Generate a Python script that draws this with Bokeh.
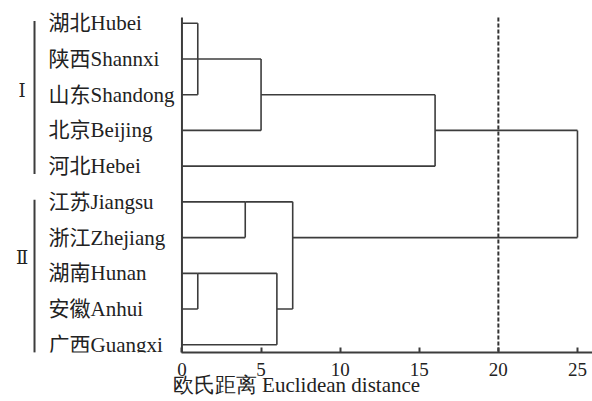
from bokeh.plotting import figure
from bokeh.models import Range1d, FixedTicker, ColumnDataSource
from bokeh.core.properties import value
from bokeh.embed import file_html
from bokeh.resources import INLINE

# ---- data ----
leaves = ["湖北Hubei", "陕西Shannxi", "山东Shandong", "北京Beijing", "河北Hebei",
          "江苏Jiangsu", "浙江Zhejiang", "湖南Hunan", "安徽Anhui", "广西Guangxi"]
# each merge: distance, rows of the joined branches, distance where each branch starts
merge_dist = [1, 5, 16, 4, 1, 6, 7, 25]
merge_child_rows = [[0, 1, 2], [1, 3], [2, 4], [5, 6], [7, 8], [7, 9], [5, 8], [3, 6]]
merge_child_from = [[0, 0, 0], [1, 0], [5, 0], [0, 0], [0, 0], [1, 0], [4, 6], [16, 7]]
cut_distance = 20
x_ticks = [0, 5, 10, 15, 20, 25]
group_names = ["Ⅰ", "Ⅱ"]
group_first_row = [0, 5]
group_last_row = [4, 9]
group_label_row = [1.87, 6.56]
x_label = "欧氏距离 Euclidean distance"

# ---- styling ----
FONT = "Liberation Serif, Noto Sans CJK SC"
LINE = "#3c3c3c"
TEXT = "#222222"

n = len(leaves)
y_top = -0.636
y_bot = (n - 1) + 0.216

p = figure(width=592, height=401, output_backend="svg", toolbar_location=None,
           x_range=Range1d(-11.47, 25.95), y_range=Range1d(y_bot, y_top),
           min_border_left=0, min_border_right=0, min_border_top=0, min_border_bottom=49)
p.outline_line_color = None
p.grid.visible = False
p.yaxis.visible = False
p.background_fill_color = "white"
p.border_fill_color = "white"

# dendrogram segments
hx0, hx1, hy = [], [], []
vx, vy0, vy1 = [], [], []
for d, rows, froms in zip(merge_dist, merge_child_rows, merge_child_from):
    for r, f in zip(rows, froms):
        hx0.append(f); hx1.append(d); hy.append(r)
    vx.append(d); vy0.append(min(rows)); vy1.append(max(rows))

p.segment(x0=hx0, y0=hy, x1=hx1, y1=hy, line_color=LINE, line_width=1.6)
p.segment(x0=vx, y0=vy0, x1=vx, y1=vy1, line_color=LINE, line_width=1.6)

# left baseline (distance 0) and cut line
top_line = -0.16
p.segment(x0=[0], y0=[top_line], x1=[0], y1=[y_bot], line_color=LINE, line_width=2)
p.segment(x0=[cut_distance], y0=[top_line], x1=[cut_distance], y1=[y_bot],
          line_color="#333333", line_width=2, line_dash="4 2")

# leaf labels
src = ColumnDataSource(dict(x=[-8.43] * n, y=list(range(n)), t=leaves))
p.text(x="x", y="y", text="t", source=src, text_font=value(FONT), text_font_size="21px",
       text_align="left", text_baseline="middle", text_color=TEXT)

# group brackets and roman numerals
bx = -9.32
p.segment(x0=[bx] * 2, y0=[f - 0.06 for f in group_first_row],
          x1=[bx] * 2, y1=[l + 0.22 for l in group_last_row],
          line_color=LINE, line_width=2)
p.text(x=[-10.1] * 2, y=group_label_row, text=group_names, text_font=value("DejaVu Serif"),
       text_font_size="18px", text_align="center", text_baseline="middle", text_color=TEXT)

# x axis
ax = p.xaxis[0]
ax.bounds = (0, 26)
ax.ticker = FixedTicker(ticks=x_ticks)
ax.axis_label = x_label
ax.axis_label_text_font = "serif"
ax.axis_label_text_font_size = "21px"
ax.axis_label_text_font_style = "normal"
ax.axis_label_text_color = TEXT
ax.axis_label_standoff = -6
ax.major_label_text_font = "serif"
ax.major_label_text_font_size = "19px"
ax.major_label_text_color = TEXT
ax.major_label_standoff = 10
ax.major_tick_in = 5
ax.major_tick_out = 0
ax.minor_tick_line_color = None
ax.axis_line_color = LINE
ax.axis_line_width = 2
ax.major_tick_line_color = LINE
ax.major_tick_line_width = 2

open("out.html", "w").write(file_html(p, INLINE))
